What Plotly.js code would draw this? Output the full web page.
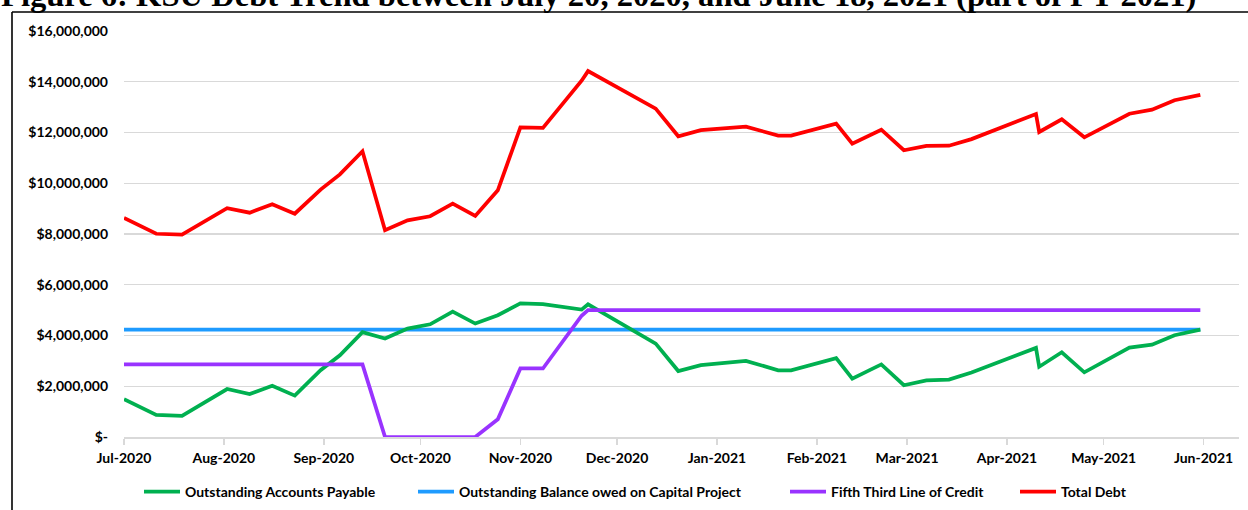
<!DOCTYPE html>
<html>
<head>
<meta charset="utf-8">
<script src="https://cdn.plot.ly/plotly-3.0.1.min.js"></script>
<style>
html,body{margin:0;padding:0;background:#fff;}
#chart{width:1248px;height:510px;}
</style>
</head>
<body>
<div id="chart"></div>
<script>
// ---- data ----
var dates = ['2020-07-01','2020-07-11','2020-07-19','2020-08-02','2020-08-09','2020-08-16','2020-08-23','2020-08-31',
  '2020-09-06','2020-09-13','2020-09-20','2020-09-27','2020-10-04','2020-10-11','2020-10-18','2020-10-25',
  '2020-11-01','2020-11-08','2020-11-20','2020-11-22','2020-12-13','2020-12-20','2020-12-27','2021-01-10',
  '2021-01-20','2021-01-24','2021-02-07','2021-02-12','2021-02-21','2021-02-28','2021-03-07','2021-03-14',
  '2021-03-21','2021-04-10','2021-04-11','2021-04-18','2021-04-25','2021-05-09','2021-05-16','2021-05-23','2021-05-31'];

var accountsPayable = [1490000,870000,830000,1890000,1690000,2020000,1630000,2630000,
  3220000,4130000,3880000,4270000,4440000,4940000,4470000,4800000,
  5270000,5240000,5020000,5230000,3680000,2600000,2830000,3000000,
  2630000,2630000,3110000,2300000,2860000,2040000,2230000,2260000,
  2540000,3510000,2770000,3340000,2550000,3520000,3640000,4010000,4230000];

var capitalProject = [4230000,4230000,4230000,4230000,4230000,4230000,4230000,4230000,
  4230000,4230000,4230000,4230000,4230000,4230000,4230000,4230000,
  4230000,4230000,4230000,4230000,4230000,4230000,4230000,4230000,
  4230000,4230000,4230000,4230000,4230000,4230000,4230000,4230000,
  4230000,4230000,4230000,4230000,4230000,4230000,4230000,4230000,4230000];

var lineOfCredit = [2860000,2860000,2860000,2860000,2860000,2860000,2860000,2860000,
  2860000,2860000,0,0,0,0,0,700000,
  2700000,2700000,4780000,5000000,5000000,5000000,5000000,5000000,
  5000000,5000000,5000000,5000000,5000000,5000000,5000000,5000000,
  5000000,5000000,5000000,5000000,5000000,5000000,5000000,5000000,5000000];

var totalDebt = [8630000,8010000,7980000,9020000,8840000,9170000,8800000,9750000,
  10350000,11260000,8150000,8540000,8700000,9200000,8710000,9720000,
  12200000,12180000,14040000,14420000,12940000,11850000,12090000,12230000,
  11880000,11880000,12350000,11560000,12110000,11300000,11470000,11480000,
  11740000,12730000,12020000,12520000,11810000,12740000,12900000,13270000,13480000];

var seriesNames = ['Outstanding Accounts Payable','Outstanding Balance owed on Capital Project','Fifth Third Line of Credit','Total Debt'];
var yTickVals = [0,2000000,4000000,6000000,8000000,10000000,12000000,14000000,16000000];
var yTickText = ['$-','$2,000,000','$4,000,000','$6,000,000','$8,000,000','$10,000,000','$12,000,000','$14,000,000','$16,000,000'];
var titleText = 'Figure 6: KSU Debt Trend between July 20, 2020, and June 18, 2021 (part of FY 2021)';

// ---- geometry helpers (pixel -> paper) ----
var W = 1248, H = 510;
var mL = 124, mR = 9, mT = 31, mB = 73;
var pw = W - mL - mR, ph = H - mT - mB;
function px(x){ return (x - mL) / pw; }
function py(y){ return (H - mB - y) / ph; }

var font = {family:'Lato, sans-serif', size:14, color:'#000', weight:700};

function tr(y, name, color, leg){
  return {x: dates, y: y, name: name, type:'scatter', mode:'lines',
    line:{color: color, width:3.75}, legend: leg, hoverinfo:'x+y'};
}

var traces = [
  tr(capitalProject, seriesNames[1], '#1E9BFF', 'legend2'),
  tr(accountsPayable, seriesNames[0], '#00B050', 'legend'),
  tr(lineOfCredit, seriesNames[2], '#9933FF', 'legend3'),
  tr(totalDebt, seriesNames[3], '#FF0000', 'legend4')
];

function leg(xp){
  return {orientation:'h', x: px(xp), xanchor:'left', y: py(492), yanchor:'middle',
    font: font, bgcolor:'rgba(0,0,0,0)', itemwidth:36, tracegroupgap:0};
}

var layout = {
  width: W, height: H,
  margin:{l:mL, r:mR, t:mT, b:mB, pad:0, autoexpand:false},
  paper_bgcolor:'#fff', plot_bgcolor:'#fff',
  font: font,
  showlegend: true,
  legend: leg(139), legend2: leg(413), legend3: leg(785), legend4: leg(1015),
  xaxis:{
    type:'date', range:['2020-07-01','2021-06-12'],
    tick0:'2020-07-01', dtick:'M1', tickformat:'%b-%Y',
    showgrid:false, zeroline:false, automargin:false,
    showline:true, linecolor:'#d9d9d9', linewidth:1.5,
    ticks:'outside', ticklen:6, tickcolor:'#d9d9d9', tickwidth:1.5,
    tickfont: font, ticklabelstandoff:2
  },
  yaxis:{
    range:[0,16000000], tickvals: yTickVals, ticktext: yTickText,
    showgrid:true, gridcolor:'#d9d9d9', gridwidth:1.3, automargin:false,
    zeroline:false, showline:false, ticks:'',
    tickfont: font, ticklabelstandoff:15
  },
  annotations:[{
    text: '<b>' + titleText + '</b>', xref:'paper', yref:'paper',
    x: px(-1), y: py(15), xanchor:'left', yanchor:'bottom', showarrow:false,
    font:{family:'Liberation Serif, Times New Roman, serif', size:32.6, color:'#000'}
  }],
  shapes:[
    {type:'line', xref:'paper', yref:'paper', x0:px(12), x1:px(1250), y0:py(12), y1:py(12), line:{color:'#000', width:1.6}},
    {type:'line', xref:'paper', yref:'paper', x0:px(12), x1:px(12), y0:py(12), y1:py(512), line:{color:'#000', width:1.6}}
  ]
};

Plotly.newPlot('chart', traces, layout, {displayModeBar:false, staticPlot:true});
</script>
</body>
</html>
